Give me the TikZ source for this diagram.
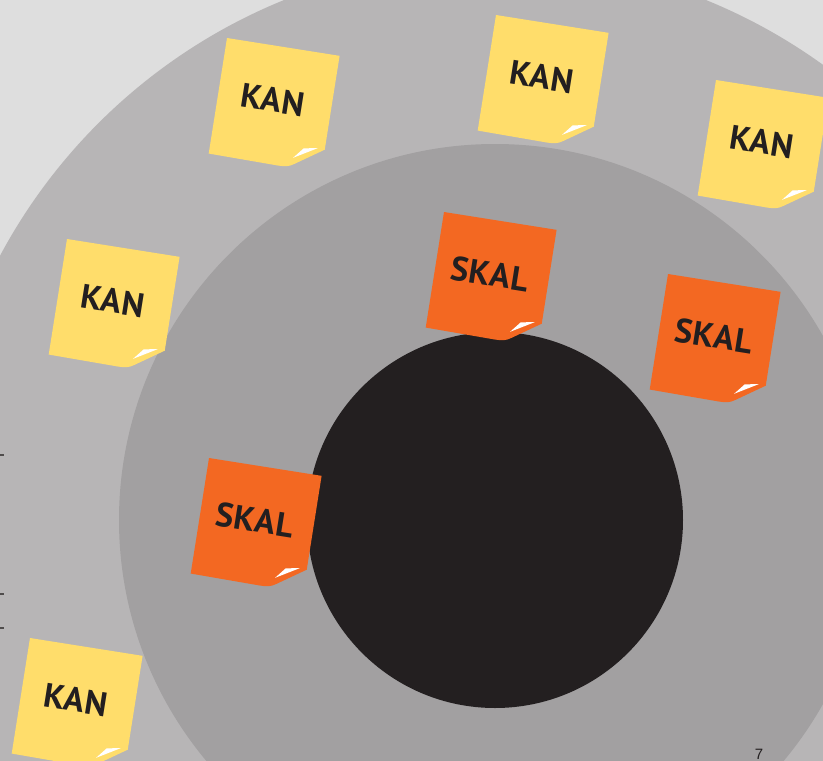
\documentclass[tikz,border=0pt]{standalone}
\usepackage{fontspec}
\newfontfamily\notefont{PT Sans}[LetterSpace=2]
\newfontfamily\pagefont{Liberation Sans}
\definecolor{pagebg}{HTML}{DEDEDE}
\definecolor{ringout}{HTML}{B7B5B6}
\definecolor{ringmid}{HTML}{A2A0A1}
\definecolor{coreblack}{HTML}{231F20}
\definecolor{kanyellow}{HTML}{FFDD6B}
\definecolor{skalorange}{HTML}{F36822}

\begin{document}
\begin{tikzpicture}[x=1pt, y=-1pt,
  notetext/.style={text=coreblack, inner sep=0pt, transform shape,
    font=\notefont\bfseries\fontsize{34}{34}\selectfont}]
  \useasboundingbox (0,0) rectangle (823,761);
  \fill[pagebg] (0,0) rectangle (823,761);
  % three rings round one centre
  \begin{scope}
    \clip (0,0) rectangle (823,761);
    \fill[ringout] (495,520) circle[radius=561];
    \fill[ringmid] (495,520) circle[radius=376];
    \fill[coreblack] (495,520) circle[radius=188];
  \end{scope}
  % crop marks at the left edge
  \foreach \my in {455, 594, 628} {
    \draw[coreblack!80, line width=1.2pt] (0,\my) -- (4,\my);
  }
  % sticky notes: top-left corner / colour / word
  \foreach \px/\py/\col/\word [count=\i] in {
      227/38/kanyellow/KAN, 496/15/kanyellow/KAN, 716/80/kanyellow/KAN,
      67/239/kanyellow/KAN, 30/638/kanyellow/KAN,
      444/212/skalorange/SKAL, 668/274/skalorange/SKAL, 209/458/skalorange/SKAL} {
    \begin{scope}[shift={(\px,\py)}, rotate=-9]
      \fill[\col] (0,0) -- (114,0) -- (114,95) -- (86,114)
        .. controls (81,117.5) and (77,118) .. (70,118) -- (0,117) -- cycle;
      \fill[white] (84,108) -- (93,97) -- (107,94.5) -- cycle;
      \node[notetext] (note\i) at (55,54) {\word};
    \end{scope}
  }
  % page number
  \node[text=coreblack, inner sep=0pt, anchor=base,
    font=\pagefont\fontsize{15}{15}\selectfont] (pagenum) at (759,759) {7};
\end{tikzpicture}
\end{document}
